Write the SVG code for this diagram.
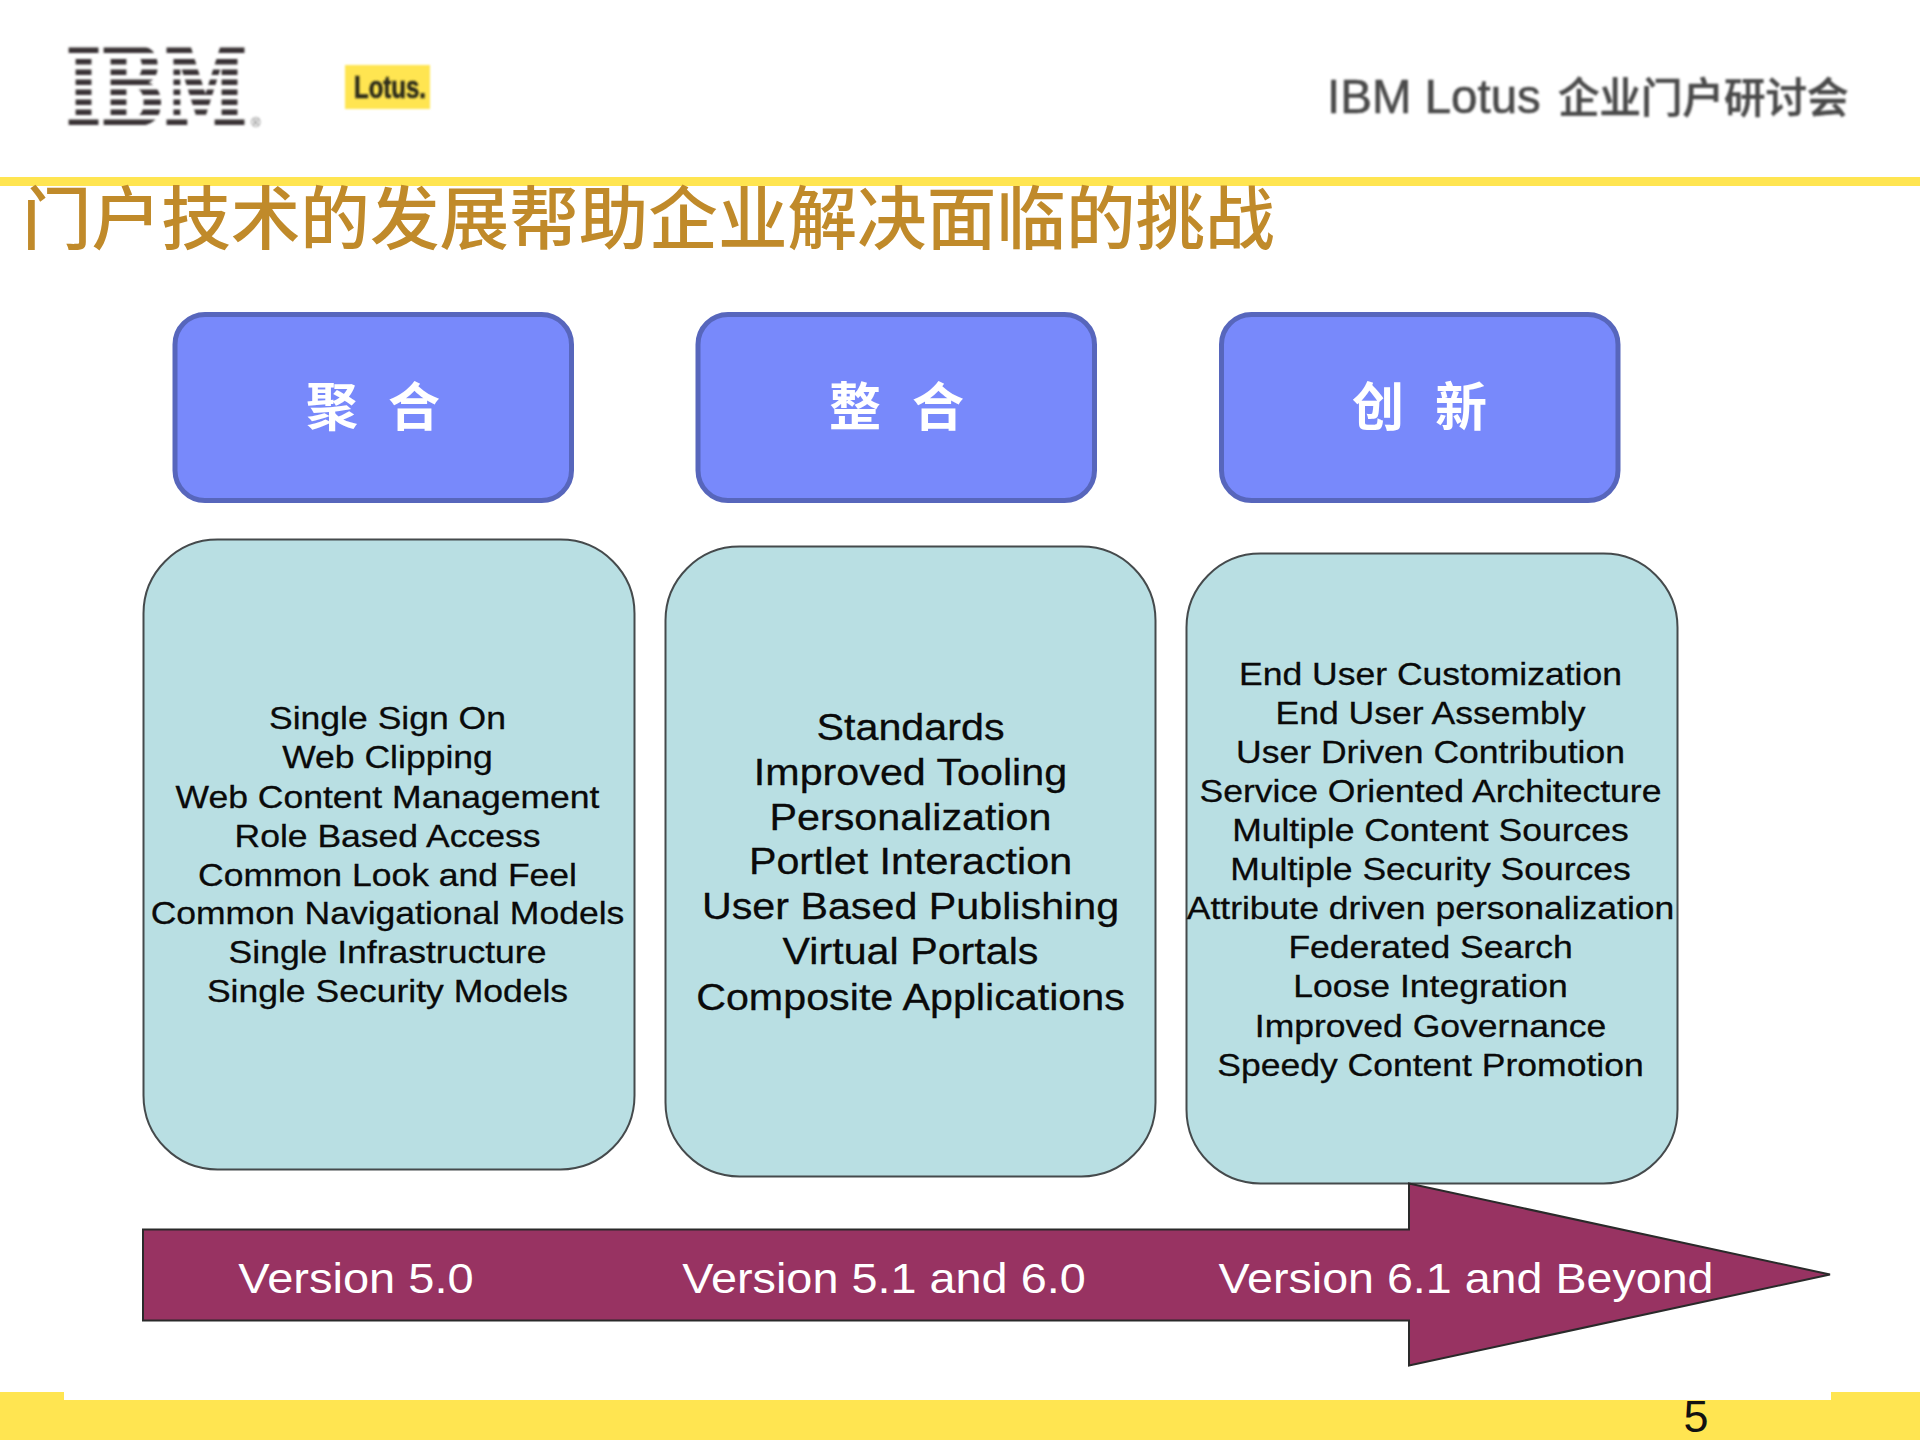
<svg xmlns="http://www.w3.org/2000/svg" width="1920" height="1440" viewBox="0 0 1920 1440">
<style>
.sans{font-family:"Liberation Sans","Noto Sans CJK SC",sans-serif}
.blue{fill:#7889FB;stroke:#5766BC;stroke-width:5}
.teal{fill:#B9DFE3;stroke:#454A4C;stroke-width:2}
.head{font-family:"Noto Sans CJK SC",sans-serif;font-size:52px;font-weight:700;fill:#fff}
.list{font-family:"Liberation Sans",sans-serif;fill:#0a0a0a;stroke:#0a0a0a;stroke-width:0.3;text-anchor:middle}
.l32{font-size:32px}
.l37{font-size:37px}
.ver{font-family:"Liberation Sans",sans-serif;font-size:42px;fill:#fff;text-anchor:middle}
.band{fill:#FFE551}
</style>
<defs>
<filter id="soft" x="-5%" y="-5%" width="110%" height="110%"><feGaussianBlur stdDeviation="0.8"/></filter>
<mask id="stripes" maskUnits="userSpaceOnUse" x="60" y="40" width="210" height="100">
<g fill="#fff">
<rect x="60" y="47.5" width="210" height="5.5"/><rect x="60" y="59" width="210" height="5.5"/>
<rect x="60" y="69.5" width="210" height="5.5"/><rect x="60" y="79.5" width="210" height="5.5"/>
<rect x="60" y="89.5" width="210" height="5.5"/><rect x="60" y="99.5" width="210" height="5.5"/>
<rect x="60" y="109.5" width="210" height="5.5"/><rect x="60" y="119.5" width="210" height="5.5"/>
</g>
</mask>
</defs>
<rect width="1920" height="1440" fill="#fff"/>

<g id="logo-ibm" filter="url(#soft)">
<g mask="url(#stripes)"><text transform="translate(66 125) scale(0.7 1)" font-family="'DejaVu Serif',serif" font-weight="700" font-size="107" fill="#383234" stroke="#383234" stroke-width="2.5">IBM</text></g>
<text x="251" y="127" font-family="'Liberation Sans',sans-serif" font-size="13" fill="#666">®</text>
</g>
<g id="logo-lotus">
<rect x="345" y="65" width="85" height="44" class="band" filter="url(#soft)"/>
<text x="354" y="98" font-family="'Liberation Sans',sans-serif" font-weight="700" font-size="31" fill="#2a2a1a" stroke="#2a2a1a" stroke-width="0.6" textLength="72" lengthAdjust="spacingAndGlyphs" filter="url(#soft)">Lotus.</text>
</g>
<g id="header-title" filter="url(#soft)">
<text x="1327" y="113" font-size="47.5" fill="#4a4a4a" stroke="#4a4a4a" stroke-width="0.6" class="sans">IBM Lotus<tspan x="1558" font-family="'Noto Sans CJK SC',sans-serif" font-size="41.5" font-weight="500">企业门户研讨会</tspan></text>
</g>
<rect id="top-rule" x="0" y="177" width="1920" height="9" class="band"/>
<text id="slide-title" x="22" y="244" font-family="'Noto Sans CJK SC',sans-serif" font-size="69.6" font-weight="500" fill="#C08A2A">门户技术的发展帮助企业解决面临的挑战</text>

<g id="node-juhe">
<rect x="175" y="314.5" width="396.5" height="186" rx="30" class="blue"/>
<text class="head" x="306 357 388" y="426">聚 合</text>
</g>
<g id="node-zhenghe">
<rect x="698" y="314.5" width="396.5" height="186" rx="30" class="blue"/>
<text class="head" x="829 880 912" y="426">整 合</text>
</g>
<g id="node-chuangxin">
<rect x="1221.5" y="314.5" width="396.5" height="186" rx="30" class="blue"/>
<text class="head" x="1352 1403 1435" y="426">创 新</text>
</g>

<g id="node-list1">
<rect x="143.5" y="539.5" width="491" height="630" rx="74" class="teal"/>
<g class="list l32" transform="translate(387.5 0) scale(1.11 1)">
<text x="0" y="729.5">Single Sign On</text>
<text x="0" y="768.5">Web Clipping</text>
<text x="0" y="808">Web Content Management</text>
<text x="0" y="847">Role Based Access</text>
<text x="0" y="886">Common Look and Feel</text>
<text x="0" y="924.5">Common Navigational Models</text>
<text x="0" y="963.5">Single Infrastructure</text>
<text x="0" y="1002.5">Single Security Models</text>
</g>
</g>
<g id="node-list2">
<rect x="665.5" y="546.5" width="490" height="630" rx="74" class="teal"/>
<g class="list l37" transform="translate(910.5 0) scale(1.115 1)">
<text x="0" y="740">Standards</text>
<text x="0" y="785">Improved Tooling</text>
<text x="0" y="830">Personalization</text>
<text x="0" y="874.5">Portlet Interaction</text>
<text x="0" y="919">User Based Publishing</text>
<text x="0" y="964">Virtual Portals</text>
<text x="0" y="1010">Composite Applications</text>
</g>
</g>
<g id="node-list3">
<rect x="1186.5" y="553.5" width="491" height="630" rx="74" class="teal"/>
<g class="list l32" transform="translate(1430.5 0) scale(1.11 1)">
<text x="0" y="685">End User Customization</text>
<text x="0" y="724">End User Assembly</text>
<text x="0" y="763">User Driven Contribution</text>
<text x="0" y="802">Service Oriented Architecture</text>
<text x="0" y="841">Multiple Content Sources</text>
<text x="0" y="880">Multiple Security Sources</text>
<text x="0" y="919">Attribute driven personalization</text>
<text x="0" y="958">Federated Search</text>
<text x="0" y="997.5">Loose Integration</text>
<text x="0" y="1037">Improved Governance</text>
<text x="0" y="1076">Speedy Content Promotion</text>
</g>
</g>

<g id="connectors">
<polygon id="version-arrow" points="143,1229.5 1409,1229.5 1409,1183.5 1830,1274.5 1409,1365.5 1409,1320.5 143,1320.5" fill="#983362" stroke="#2a2a2a" stroke-width="2"/>
</g>
<g id="version-labels">
<text class="ver" transform="translate(356 1293) scale(1.12 1)">Version 5.0</text>
<text class="ver" transform="translate(884 1293) scale(1.115 1)">Version 5.1 and 6.0</text>
<text class="ver" transform="translate(1466 1293) scale(1.11 1)">Version 6.1 and Beyond</text>
</g>

<g id="footer">
<rect x="0" y="1400" width="1920" height="40" class="band"/>
<rect x="0" y="1392" width="64" height="8" class="band"/>
<rect x="1831" y="1392" width="89" height="8" class="band"/>
<text x="1696" y="1432" font-family="'Liberation Sans',sans-serif" font-size="45" fill="#111" text-anchor="middle">5</text>
</g>
</svg>
